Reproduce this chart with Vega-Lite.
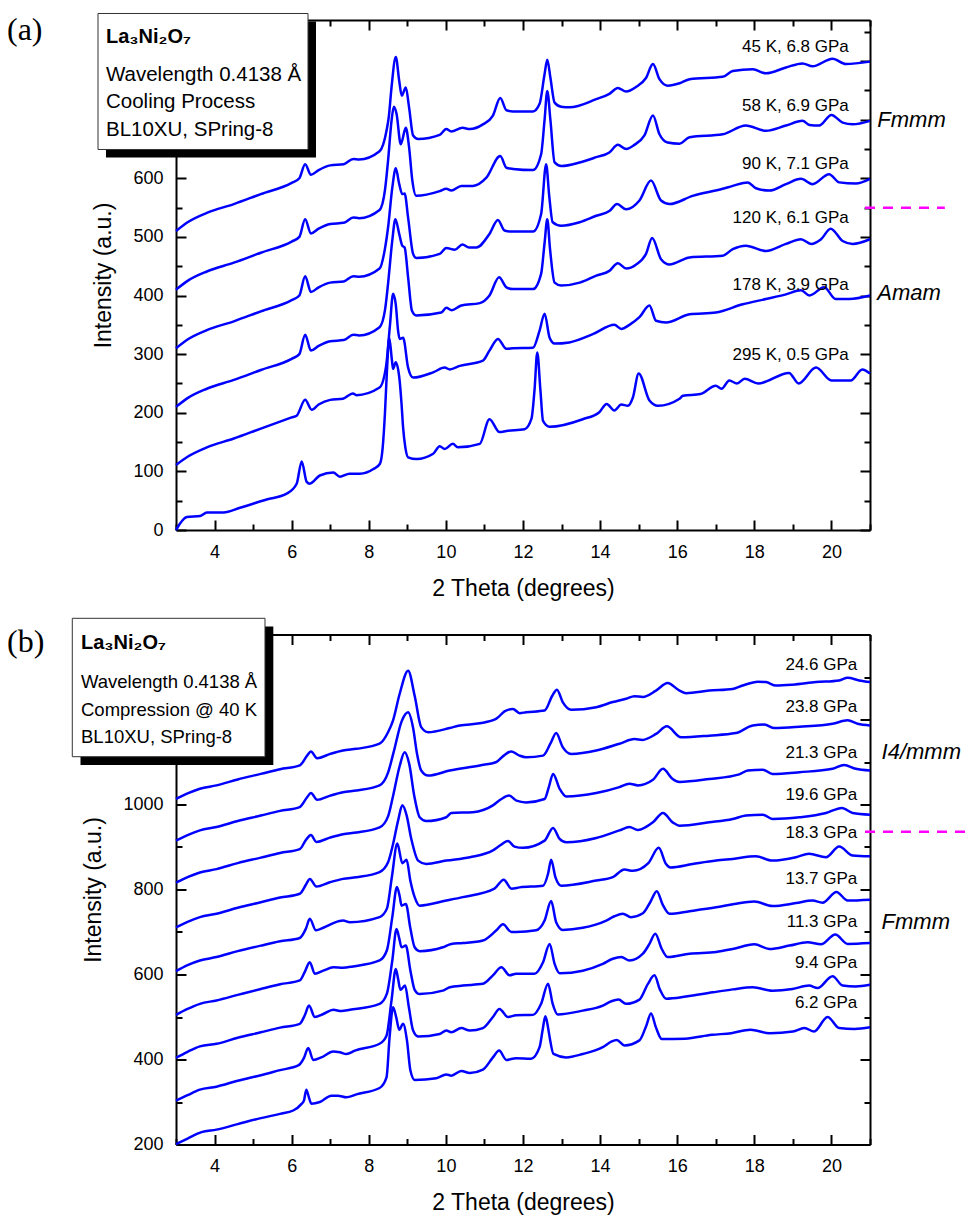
{
"$schema":"https://vega.github.io/schema/vega-lite/v6.json",
"background":"white",
"padding":{"left":7,"top":12,"right":0,"bottom":0},
"bounds":"flush",
"spacing":104.5,
"config":{"view":{"stroke":null},"axis":{"labelFont":"Liberation Sans","labelFontSize":18,"labelColor":"#000","titleFont":"Liberation Sans","titleFontSize":23,"titleFontWeight":"normal","titleColor":"#000","domainColor":"#000","domainWidth":2,"tickColor":"#000","tickWidth":2,"grid":false}},
"datasets":{
"a":[
{"c":"45K","x":3,"y":510},{"c":"45K","x":3.3,"y":525},{"c":"45K","x":3.8,"y":541},{"c":"45K","x":4.5,"y":556},{"c":"45K","x":5.2,"y":573},{"c":"45K","x":6.0,"y":592},{"c":"45K","x":6.2,"y":600},{"c":"45K","x":6.35,"y":624},{"c":"45K","x":6.5,"y":606},{"c":"45K","x":6.7,"y":614},{"c":"45K","x":7.0,"y":622},{"c":"45K","x":7.35,"y":624},{"c":"45K","x":7.6,"y":633},{"c":"45K","x":7.75,"y":632},{"c":"45K","x":8.28,"y":646},{"c":"45K","x":8.46,"y":681},{"c":"45K","x":8.52,"y":705},{"c":"45K","x":8.59,"y":755},{"c":"45K","x":8.7,"y":807},{"c":"45K","x":8.79,"y":766},{"c":"45K","x":8.855,"y":741},{"c":"45K","x":8.96,"y":755},{"c":"45K","x":9.045,"y":721},{"c":"45K","x":9.15,"y":673},{"c":"45K","x":9.28,"y":667},{"c":"45K","x":9.84,"y":674},{"c":"45K","x":10.01,"y":684},{"c":"45K","x":10.14,"y":680},{"c":"45K","x":10.43,"y":686},{"c":"45K","x":10.62,"y":684},{"c":"45K","x":10.96,"y":692},{"c":"45K","x":11.22,"y":707},{"c":"45K","x":11.41,"y":737},{"c":"45K","x":11.57,"y":716},{"c":"45K","x":11.74,"y":714},{"c":"45K","x":12.26,"y":714},{"c":"45K","x":12.43,"y":727},{"c":"45K","x":12.56,"y":778},{"c":"45K","x":12.63,"y":802},{"c":"45K","x":12.71,"y":772},{"c":"45K","x":12.82,"y":729},{"c":"45K","x":12.99,"y":722},{"c":"45K","x":13.21,"y":721},{"c":"45K","x":13.9,"y":735},{"c":"45K","x":14.24,"y":744},{"c":"45K","x":14.46,"y":754},{"c":"45K","x":14.675,"y":748},{"c":"45K","x":14.935,"y":756},{"c":"45K","x":15.19,"y":771},{"c":"45K","x":15.37,"y":795},{"c":"45K","x":15.54,"y":769},{"c":"45K","x":15.75,"y":758},{"c":"45K","x":16.06,"y":762},{"c":"45K","x":16.32,"y":769},{"c":"45K","x":17.18,"y":773},{"c":"45K","x":17.44,"y":783},{"c":"45K","x":17.96,"y":786},{"c":"45K","x":18.3,"y":779},{"c":"45K","x":18.82,"y":789},{"c":"45K","x":19.25,"y":796},{"c":"45K","x":19.51,"y":791},{"c":"45K","x":20.03,"y":804},{"c":"45K","x":20.37,"y":795},{"c":"45K","x":21,"y":799},
{"c":"58K","x":3,"y":410},{"c":"58K","x":3.3,"y":425},{"c":"58K","x":3.8,"y":441},{"c":"58K","x":4.5,"y":456},{"c":"58K","x":5.2,"y":473},{"c":"58K","x":6.0,"y":492},{"c":"58K","x":6.2,"y":500},{"c":"58K","x":6.35,"y":530},{"c":"58K","x":6.5,"y":506},{"c":"58K","x":6.7,"y":514},{"c":"58K","x":7.0,"y":522},{"c":"58K","x":7.35,"y":524},{"c":"58K","x":7.6,"y":533},{"c":"58K","x":7.75,"y":532},{"c":"58K","x":8.28,"y":546},{"c":"58K","x":8.42,"y":580},{"c":"58K","x":8.5,"y":630},{"c":"58K","x":8.59,"y":698},{"c":"58K","x":8.65,"y":722},{"c":"58K","x":8.72,"y":710},{"c":"58K","x":8.83,"y":658},{"c":"58K","x":8.96,"y":686},{"c":"58K","x":9.045,"y":653},{"c":"58K","x":9.13,"y":596},{"c":"58K","x":9.23,"y":570},{"c":"58K","x":9.84,"y":578},{"c":"58K","x":10.01,"y":582},{"c":"58K","x":10.14,"y":579},{"c":"58K","x":10.4,"y":587},{"c":"58K","x":10.7,"y":587},{"c":"58K","x":11.05,"y":601},{"c":"58K","x":11.41,"y":638},{"c":"58K","x":11.57,"y":618},{"c":"58K","x":11.74,"y":616},{"c":"58K","x":12.26,"y":614},{"c":"58K","x":12.47,"y":641},{"c":"58K","x":12.56,"y":700},{"c":"58K","x":12.63,"y":749},{"c":"58K","x":12.71,"y":700},{"c":"58K","x":12.82,"y":627},{"c":"58K","x":12.99,"y":621},{"c":"58K","x":13.47,"y":627},{"c":"58K","x":13.9,"y":636},{"c":"58K","x":14.24,"y":644},{"c":"58K","x":14.46,"y":657},{"c":"58K","x":14.675,"y":650},{"c":"58K","x":14.89,"y":657},{"c":"58K","x":15.15,"y":673},{"c":"58K","x":15.37,"y":707},{"c":"58K","x":15.54,"y":675},{"c":"58K","x":15.75,"y":661},{"c":"58K","x":16.06,"y":659},{"c":"58K","x":16.32,"y":670},{"c":"58K","x":17.18,"y":675},{"c":"58K","x":17.78,"y":690},{"c":"58K","x":18.3,"y":681},{"c":"58K","x":18.82,"y":690},{"c":"58K","x":19.25,"y":698},{"c":"58K","x":19.43,"y":691},{"c":"58K","x":19.68,"y":690},{"c":"58K","x":20.0,"y":708},{"c":"58K","x":20.29,"y":695},{"c":"58K","x":20.55,"y":692},{"c":"58K","x":21,"y":698},
{"c":"90K","x":3,"y":310},{"c":"90K","x":3.3,"y":325},{"c":"90K","x":3.8,"y":341},{"c":"90K","x":4.5,"y":356},{"c":"90K","x":5.2,"y":373},{"c":"90K","x":6.0,"y":392},{"c":"90K","x":6.2,"y":400},{"c":"90K","x":6.35,"y":433},{"c":"90K","x":6.5,"y":406},{"c":"90K","x":6.7,"y":414},{"c":"90K","x":7.0,"y":422},{"c":"90K","x":7.35,"y":424},{"c":"90K","x":7.6,"y":433},{"c":"90K","x":7.75,"y":432},{"c":"90K","x":8.28,"y":446},{"c":"90K","x":8.42,"y":480},{"c":"90K","x":8.5,"y":516},{"c":"90K","x":8.61,"y":584},{"c":"90K","x":8.7,"y":617},{"c":"90K","x":8.79,"y":590},{"c":"90K","x":8.87,"y":573},{"c":"90K","x":8.93,"y":574},{"c":"90K","x":9.02,"y":533},{"c":"90K","x":9.15,"y":471},{"c":"90K","x":9.23,"y":464},{"c":"90K","x":9.84,"y":471},{"c":"90K","x":10.01,"y":481},{"c":"90K","x":10.23,"y":478},{"c":"90K","x":10.43,"y":487},{"c":"90K","x":10.6,"y":482},{"c":"90K","x":10.79,"y":482},{"c":"90K","x":11.13,"y":505},{"c":"90K","x":11.35,"y":529},{"c":"90K","x":11.52,"y":511},{"c":"90K","x":11.7,"y":509},{"c":"90K","x":12.26,"y":509},{"c":"90K","x":12.47,"y":539},{"c":"90K","x":12.6,"y":624},{"c":"90K","x":12.68,"y":570},{"c":"90K","x":12.77,"y":525},{"c":"90K","x":12.99,"y":519},{"c":"90K","x":13.47,"y":525},{"c":"90K","x":13.9,"y":536},{"c":"90K","x":14.24,"y":544},{"c":"90K","x":14.44,"y":556},{"c":"90K","x":14.675,"y":547},{"c":"90K","x":15.02,"y":562},{"c":"90K","x":15.32,"y":596},{"c":"90K","x":15.58,"y":562},{"c":"90K","x":15.8,"y":556},{"c":"90K","x":16.4,"y":570},{"c":"90K","x":17.18,"y":582},{"c":"90K","x":17.44,"y":587},{"c":"90K","x":17.83,"y":593},{"c":"90K","x":18.04,"y":583},{"c":"90K","x":18.39,"y":579},{"c":"90K","x":18.82,"y":590},{"c":"90K","x":19.21,"y":599},{"c":"90K","x":19.51,"y":590},{"c":"90K","x":19.94,"y":607},{"c":"90K","x":20.2,"y":593},{"c":"90K","x":20.63,"y":591},{"c":"90K","x":21,"y":599},
{"c":"120K","x":3,"y":210},{"c":"120K","x":3.3,"y":225},{"c":"120K","x":3.8,"y":241},{"c":"120K","x":4.5,"y":256},{"c":"120K","x":5.2,"y":273},{"c":"120K","x":6.0,"y":292},{"c":"120K","x":6.2,"y":300},{"c":"120K","x":6.35,"y":333},{"c":"120K","x":6.5,"y":306},{"c":"120K","x":6.7,"y":314},{"c":"120K","x":7.0,"y":322},{"c":"120K","x":7.35,"y":324},{"c":"120K","x":7.6,"y":333},{"c":"120K","x":7.75,"y":332},{"c":"120K","x":8.28,"y":346},{"c":"120K","x":8.42,"y":375},{"c":"120K","x":8.5,"y":420},{"c":"120K","x":8.61,"y":494},{"c":"120K","x":8.69,"y":530},{"c":"120K","x":8.79,"y":505},{"c":"120K","x":8.87,"y":485},{"c":"120K","x":8.93,"y":482},{"c":"120K","x":9.02,"y":431},{"c":"120K","x":9.12,"y":374},{"c":"120K","x":9.23,"y":366},{"c":"120K","x":9.88,"y":371},{"c":"120K","x":10.01,"y":379},{"c":"120K","x":10.15,"y":375},{"c":"120K","x":10.4,"y":383},{"c":"120K","x":10.88,"y":387},{"c":"120K","x":11.13,"y":400},{"c":"120K","x":11.38,"y":431},{"c":"120K","x":11.57,"y":414},{"c":"120K","x":11.74,"y":411},{"c":"120K","x":12.26,"y":411},{"c":"120K","x":12.47,"y":437},{"c":"120K","x":12.56,"y":490},{"c":"120K","x":12.63,"y":530},{"c":"120K","x":12.7,"y":480},{"c":"120K","x":12.82,"y":422},{"c":"120K","x":12.99,"y":417},{"c":"120K","x":13.47,"y":422},{"c":"120K","x":13.9,"y":434},{"c":"120K","x":14.24,"y":442},{"c":"120K","x":14.46,"y":455},{"c":"120K","x":14.675,"y":446},{"c":"120K","x":14.935,"y":453},{"c":"120K","x":15.19,"y":471},{"c":"120K","x":15.35,"y":498},{"c":"120K","x":15.58,"y":462},{"c":"120K","x":15.8,"y":453},{"c":"120K","x":16.32,"y":465},{"c":"120K","x":17.18,"y":468},{"c":"120K","x":17.44,"y":479},{"c":"120K","x":17.78,"y":485},{"c":"120K","x":18.3,"y":476},{"c":"120K","x":18.82,"y":488},{"c":"120K","x":19.21,"y":496},{"c":"120K","x":19.47,"y":488},{"c":"120K","x":19.73,"y":496},{"c":"120K","x":19.98,"y":514},{"c":"120K","x":20.29,"y":493},{"c":"120K","x":20.55,"y":488},{"c":"120K","x":21,"y":496},
{"c":"178K","x":3,"y":111},{"c":"178K","x":3.3,"y":125},{"c":"178K","x":3.8,"y":141},{"c":"178K","x":4.5,"y":156},{"c":"178K","x":5.2,"y":173},{"c":"178K","x":6.0,"y":192},{"c":"178K","x":6.13,"y":195},{"c":"178K","x":6.35,"y":222},{"c":"178K","x":6.52,"y":205},{"c":"178K","x":6.7,"y":214},{"c":"178K","x":7.0,"y":222},{"c":"178K","x":7.33,"y":224},{"c":"178K","x":7.59,"y":233},{"c":"178K","x":7.68,"y":230},{"c":"178K","x":8.28,"y":243},{"c":"178K","x":8.45,"y":280},{"c":"178K","x":8.55,"y":350},{"c":"178K","x":8.63,"y":403},{"c":"178K","x":8.7,"y":385},{"c":"178K","x":8.76,"y":340},{"c":"178K","x":8.8,"y":326},{"c":"178K","x":8.89,"y":328},{"c":"178K","x":9.02,"y":277},{"c":"178K","x":9.15,"y":260},{"c":"178K","x":9.67,"y":269},{"c":"178K","x":9.97,"y":277},{"c":"178K","x":10.1,"y":274},{"c":"178K","x":10.36,"y":280},{"c":"178K","x":10.96,"y":289},{"c":"178K","x":11.13,"y":306},{"c":"178K","x":11.35,"y":326},{"c":"178K","x":11.57,"y":309},{"c":"178K","x":11.74,"y":310},{"c":"178K","x":12.26,"y":311},{"c":"178K","x":12.43,"y":340},{"c":"178K","x":12.56,"y":369},{"c":"178K","x":12.69,"y":328},{"c":"178K","x":12.82,"y":318},{"c":"178K","x":13.2,"y":320},{"c":"178K","x":13.81,"y":334},{"c":"178K","x":14.37,"y":350},{"c":"178K","x":14.55,"y":343},{"c":"178K","x":14.76,"y":350},{"c":"178K","x":15.02,"y":363},{"c":"178K","x":15.28,"y":383},{"c":"178K","x":15.45,"y":357},{"c":"178K","x":15.71,"y":354},{"c":"178K","x":16.32,"y":368},{"c":"178K","x":17.0,"y":371},{"c":"178K","x":17.7,"y":385},{"c":"178K","x":18.3,"y":394},{"c":"178K","x":18.82,"y":402},{"c":"178K","x":19.21,"y":409},{"c":"178K","x":19.43,"y":400},{"c":"178K","x":19.81,"y":414},{"c":"178K","x":20.11,"y":394},{"c":"178K","x":20.46,"y":394},{"c":"178K","x":21,"y":400},
{"c":"295K","x":3,"y":0},{"c":"295K","x":3.28,"y":22},{"c":"295K","x":3.63,"y":24},{"c":"295K","x":3.8,"y":30},{"c":"295K","x":4.23,"y":30},{"c":"295K","x":4.66,"y":38},{"c":"295K","x":5.35,"y":52},{"c":"295K","x":5.87,"y":62},{"c":"295K","x":6.13,"y":79},{"c":"295K","x":6.26,"y":117},{"c":"295K","x":6.39,"y":82},{"c":"295K","x":6.47,"y":79},{"c":"295K","x":6.73,"y":93},{"c":"295K","x":7.08,"y":98},{"c":"295K","x":7.25,"y":91},{"c":"295K","x":7.5,"y":96},{"c":"295K","x":7.77,"y":96},{"c":"295K","x":8.12,"y":104},{"c":"295K","x":8.29,"y":113},{"c":"295K","x":8.36,"y":140},{"c":"295K","x":8.42,"y":200},{"c":"295K","x":8.47,"y":270},{"c":"295K","x":8.53,"y":328},{"c":"295K","x":8.6,"y":290},{"c":"295K","x":8.63,"y":275},{"c":"295K","x":8.7,"y":286},{"c":"295K","x":8.8,"y":255},{"c":"295K","x":8.85,"y":215},{"c":"295K","x":8.89,"y":175},{"c":"295K","x":8.95,"y":140},{"c":"295K","x":9.02,"y":124},{"c":"295K","x":9.24,"y":121},{"c":"295K","x":9.67,"y":130},{"c":"295K","x":9.84,"y":143},{"c":"295K","x":9.97,"y":138},{"c":"295K","x":10.18,"y":147},{"c":"295K","x":10.31,"y":141},{"c":"295K","x":10.88,"y":147},{"c":"295K","x":11.13,"y":189},{"c":"295K","x":11.39,"y":167},{"c":"295K","x":11.57,"y":169},{"c":"295K","x":12.04,"y":172},{"c":"295K","x":12.22,"y":190},{"c":"295K","x":12.3,"y":240},{"c":"295K","x":12.37,"y":303},{"c":"295K","x":12.45,"y":240},{"c":"295K","x":12.52,"y":186},{"c":"295K","x":12.69,"y":176},{"c":"295K","x":13.55,"y":189},{"c":"295K","x":13.98,"y":201},{"c":"295K","x":14.17,"y":215},{"c":"295K","x":14.37,"y":204},{"c":"295K","x":14.55,"y":214},{"c":"295K","x":14.72,"y":212},{"c":"295K","x":14.85,"y":226},{"c":"295K","x":15.0,"y":267},{"c":"295K","x":15.28,"y":221},{"c":"295K","x":15.5,"y":212},{"c":"295K","x":16.06,"y":224},{"c":"295K","x":16.15,"y":229},{"c":"295K","x":16.6,"y":232},{"c":"295K","x":17.0,"y":246},{"c":"295K","x":17.15,"y":241},{"c":"295K","x":17.35,"y":255},{"c":"295K","x":17.55,"y":250},{"c":"295K","x":17.75,"y":258},{"c":"295K","x":18.1,"y":250},{"c":"295K","x":18.9,"y":268},{"c":"295K","x":19.15,"y":250},{"c":"295K","x":19.6,"y":277},{"c":"295K","x":20.0,"y":255},{"c":"295K","x":20.5,"y":255},{"c":"295K","x":20.8,"y":274},{"c":"295K","x":21,"y":267}
],
"b":[
{"c":"6.2","x":3,"y":201},{"c":"6.2","x":3.3,"y":214},{"c":"6.2","x":3.66,"y":229},{"c":"6.2","x":4.05,"y":235},{"c":"6.2","x":4.6,"y":248},{"c":"6.2","x":5.2,"y":262},{"c":"6.2","x":5.7,"y":272},{"c":"6.2","x":6.04,"y":280},{"c":"6.2","x":6.25,"y":295},{"c":"6.2","x":6.32,"y":304},{"c":"6.2","x":6.38,"y":329},{"c":"6.2","x":6.45,"y":310},{"c":"6.2","x":6.51,"y":296},{"c":"6.2","x":6.73,"y":300},{"c":"6.2","x":7.03,"y":315},{"c":"6.2","x":7.2,"y":315},{"c":"6.2","x":7.42,"y":311},{"c":"6.2","x":7.68,"y":318},{"c":"6.2","x":8.28,"y":333},{"c":"6.2","x":8.46,"y":358},{"c":"6.2","x":8.54,"y":453},{"c":"6.2","x":8.63,"y":523},{"c":"6.2","x":8.71,"y":500},{"c":"6.2","x":8.79,"y":470},{"c":"6.2","x":8.89,"y":484},{"c":"6.2","x":8.99,"y":445},{"c":"6.2","x":9.08,"y":374},{"c":"6.2","x":9.19,"y":352},{"c":"6.2","x":9.75,"y":356},{"c":"6.2","x":10.01,"y":365},{"c":"6.2","x":10.14,"y":362},{"c":"6.2","x":10.4,"y":373},{"c":"6.2","x":10.62,"y":368},{"c":"6.2","x":10.96,"y":376},{"c":"6.2","x":11.22,"y":405},{"c":"6.2","x":11.38,"y":421},{"c":"6.2","x":11.57,"y":399},{"c":"6.2","x":11.82,"y":403},{"c":"6.2","x":12.21,"y":402},{"c":"6.2","x":12.43,"y":429},{"c":"6.2","x":12.51,"y":470},{"c":"6.2","x":12.58,"y":502},{"c":"6.2","x":12.64,"y":480},{"c":"6.2","x":12.69,"y":453},{"c":"6.2","x":12.79,"y":413},{"c":"6.2","x":13.12,"y":405},{"c":"6.2","x":13.55,"y":413},{"c":"6.2","x":14.07,"y":429},{"c":"6.2","x":14.29,"y":442},{"c":"6.2","x":14.43,"y":446},{"c":"6.2","x":14.63,"y":433},{"c":"6.2","x":15.02,"y":445},{"c":"6.2","x":15.2,"y":480},{"c":"6.2","x":15.32,"y":508},{"c":"6.2","x":15.45,"y":475},{"c":"6.2","x":15.6,"y":448},{"c":"6.2","x":16.2,"y":449},{"c":"6.2","x":16.9,"y":458},{"c":"6.2","x":17.4,"y":462},{"c":"6.2","x":17.9,"y":470},{"c":"6.2","x":18.4,"y":462},{"c":"6.2","x":19.0,"y":466},{"c":"6.2","x":19.3,"y":474},{"c":"6.2","x":19.55,"y":466},{"c":"6.2","x":19.9,"y":500},{"c":"6.2","x":20.2,"y":474},{"c":"6.2","x":20.6,"y":472},{"c":"6.2","x":21,"y":476},
{"c":"9.4","x":3,"y":303},{"c":"9.4","x":3.3,"y":316},{"c":"9.4","x":3.62,"y":329},{"c":"9.4","x":4.05,"y":336},{"c":"9.4","x":4.6,"y":350},{"c":"9.4","x":5.2,"y":363},{"c":"9.4","x":5.7,"y":375},{"c":"9.4","x":6.17,"y":386},{"c":"9.4","x":6.32,"y":404},{"c":"9.4","x":6.43,"y":427},{"c":"9.4","x":6.56,"y":399},{"c":"9.4","x":6.77,"y":405},{"c":"9.4","x":7.08,"y":419},{"c":"9.4","x":7.25,"y":417},{"c":"9.4","x":7.42,"y":413},{"c":"9.4","x":7.64,"y":421},{"c":"9.4","x":8.28,"y":437},{"c":"9.4","x":8.46,"y":456},{"c":"9.4","x":8.59,"y":539},{"c":"9.4","x":8.7,"y":613},{"c":"9.4","x":8.76,"y":590},{"c":"9.4","x":8.82,"y":564},{"c":"9.4","x":8.94,"y":574},{"c":"9.4","x":9.04,"y":523},{"c":"9.4","x":9.15,"y":468},{"c":"9.4","x":9.28,"y":454},{"c":"9.4","x":9.84,"y":460},{"c":"9.4","x":10.01,"y":468},{"c":"9.4","x":10.14,"y":464},{"c":"9.4","x":10.4,"y":474},{"c":"9.4","x":10.62,"y":468},{"c":"9.4","x":10.96,"y":474},{"c":"9.4","x":11.22,"y":500},{"c":"9.4","x":11.39,"y":519},{"c":"9.4","x":11.61,"y":500},{"c":"9.4","x":11.82,"y":504},{"c":"9.4","x":12.26,"y":505},{"c":"9.4","x":12.47,"y":531},{"c":"9.4","x":12.65,"y":578},{"c":"9.4","x":12.77,"y":531},{"c":"9.4","x":12.9,"y":506},{"c":"9.4","x":13.55,"y":515},{"c":"9.4","x":14.07,"y":527},{"c":"9.4","x":14.29,"y":537},{"c":"9.4","x":14.48,"y":541},{"c":"9.4","x":14.67,"y":531},{"c":"9.4","x":15.02,"y":541},{"c":"9.4","x":15.24,"y":578},{"c":"9.4","x":15.41,"y":598},{"c":"9.4","x":15.55,"y":565},{"c":"9.4","x":15.71,"y":543},{"c":"9.4","x":16.23,"y":548},{"c":"9.4","x":16.92,"y":558},{"c":"9.4","x":17.44,"y":565},{"c":"9.4","x":17.96,"y":570},{"c":"9.4","x":18.47,"y":562},{"c":"9.4","x":18.99,"y":566},{"c":"9.4","x":19.42,"y":574},{"c":"9.4","x":19.64,"y":568},{"c":"9.4","x":20.03,"y":596},{"c":"9.4","x":20.29,"y":574},{"c":"9.4","x":20.63,"y":572},{"c":"9.4","x":21,"y":576},
{"c":"11.3","x":3,"y":404},{"c":"11.3","x":3.3,"y":418},{"c":"11.3","x":3.62,"y":431},{"c":"11.3","x":4.05,"y":437},{"c":"11.3","x":4.6,"y":451},{"c":"11.3","x":5.2,"y":464},{"c":"11.3","x":5.7,"y":475},{"c":"11.3","x":6.21,"y":484},{"c":"11.3","x":6.34,"y":504},{"c":"11.3","x":6.45,"y":527},{"c":"11.3","x":6.6,"y":500},{"c":"11.3","x":6.82,"y":507},{"c":"11.3","x":7.08,"y":517},{"c":"11.3","x":7.29,"y":514},{"c":"11.3","x":7.51,"y":517},{"c":"11.3","x":8.28,"y":531},{"c":"11.3","x":8.47,"y":555},{"c":"11.3","x":8.61,"y":633},{"c":"11.3","x":8.72,"y":707},{"c":"11.3","x":8.79,"y":685},{"c":"11.3","x":8.85,"y":664},{"c":"11.3","x":8.96,"y":668},{"c":"11.3","x":9.08,"y":609},{"c":"11.3","x":9.19,"y":564},{"c":"11.3","x":9.32,"y":554},{"c":"11.3","x":9.92,"y":562},{"c":"11.3","x":10.1,"y":570},{"c":"11.3","x":10.44,"y":574},{"c":"11.3","x":10.96,"y":578},{"c":"11.3","x":11.22,"y":598},{"c":"11.3","x":11.44,"y":617},{"c":"11.3","x":11.65,"y":598},{"c":"11.3","x":11.82,"y":602},{"c":"11.3","x":12.3,"y":602},{"c":"11.3","x":12.52,"y":629},{"c":"11.3","x":12.69,"y":672},{"c":"11.3","x":12.82,"y":625},{"c":"11.3","x":12.95,"y":603},{"c":"11.3","x":13.55,"y":609},{"c":"11.3","x":14.07,"y":625},{"c":"11.3","x":14.33,"y":637},{"c":"11.3","x":14.55,"y":641},{"c":"11.3","x":14.76,"y":633},{"c":"11.3","x":15.11,"y":649},{"c":"11.3","x":15.28,"y":672},{"c":"11.3","x":15.43,"y":696},{"c":"11.3","x":15.6,"y":660},{"c":"11.3","x":15.75,"y":641},{"c":"11.3","x":16.32,"y":649},{"c":"11.3","x":17.01,"y":653},{"c":"11.3","x":17.44,"y":660},{"c":"11.3","x":18.0,"y":671},{"c":"11.3","x":18.39,"y":660},{"c":"11.3","x":18.91,"y":668},{"c":"11.3","x":19.38,"y":676},{"c":"11.3","x":19.73,"y":671},{"c":"11.3","x":20.1,"y":694},{"c":"11.3","x":20.42,"y":672},{"c":"11.3","x":21,"y":674},
{"c":"13.7","x":3,"y":505},{"c":"13.7","x":3.3,"y":519},{"c":"13.7","x":3.62,"y":531},{"c":"13.7","x":4.05,"y":539},{"c":"13.7","x":4.6,"y":552},{"c":"13.7","x":5.2,"y":566},{"c":"13.7","x":5.7,"y":577},{"c":"13.7","x":6.21,"y":586},{"c":"13.7","x":6.34,"y":606},{"c":"13.7","x":6.47,"y":629},{"c":"13.7","x":6.6,"y":602},{"c":"13.7","x":6.82,"y":609},{"c":"13.7","x":7.08,"y":617},{"c":"13.7","x":7.33,"y":616},{"c":"13.7","x":7.59,"y":619},{"c":"13.7","x":8.28,"y":633},{"c":"13.7","x":8.47,"y":657},{"c":"13.7","x":8.61,"y":735},{"c":"13.7","x":8.73,"y":806},{"c":"13.7","x":8.8,"y":785},{"c":"13.7","x":8.85,"y":762},{"c":"13.7","x":8.96,"y":766},{"c":"13.7","x":9.08,"y":708},{"c":"13.7","x":9.19,"y":664},{"c":"13.7","x":9.32,"y":655},{"c":"13.7","x":9.92,"y":664},{"c":"13.7","x":10.14,"y":672},{"c":"13.7","x":10.44,"y":674},{"c":"13.7","x":10.96,"y":680},{"c":"13.7","x":11.31,"y":704},{"c":"13.7","x":11.48,"y":718},{"c":"13.7","x":11.7,"y":700},{"c":"13.7","x":11.82,"y":700},{"c":"13.7","x":12.34,"y":704},{"c":"13.7","x":12.56,"y":727},{"c":"13.7","x":12.73,"y":773},{"c":"13.7","x":12.86,"y":723},{"c":"13.7","x":13.03,"y":705},{"c":"13.7","x":13.55,"y":710},{"c":"13.7","x":14.16,"y":727},{"c":"13.7","x":14.37,"y":737},{"c":"13.7","x":14.59,"y":743},{"c":"13.7","x":14.8,"y":735},{"c":"13.7","x":15.11,"y":744},{"c":"13.7","x":15.3,"y":770},{"c":"13.7","x":15.47,"y":796},{"c":"13.7","x":15.62,"y":765},{"c":"13.7","x":15.8,"y":743},{"c":"13.7","x":16.32,"y":749},{"c":"13.7","x":17.01,"y":758},{"c":"13.7","x":17.48,"y":766},{"c":"13.7","x":18.0,"y":772},{"c":"13.7","x":18.47,"y":761},{"c":"13.7","x":19.08,"y":768},{"c":"13.7","x":19.51,"y":774},{"c":"13.7","x":19.77,"y":769},{"c":"13.7","x":20.13,"y":794},{"c":"13.7","x":20.42,"y":774},{"c":"13.7","x":21,"y":776},
{"c":"18.3","x":3,"y":608},{"c":"18.3","x":3.3,"y":622},{"c":"18.3","x":3.62,"y":633},{"c":"18.3","x":4.05,"y":641},{"c":"18.3","x":4.6,"y":655},{"c":"18.3","x":5.2,"y":668},{"c":"18.3","x":5.7,"y":678},{"c":"18.3","x":6.21,"y":686},{"c":"18.3","x":6.37,"y":708},{"c":"18.3","x":6.47,"y":731},{"c":"18.3","x":6.63,"y":704},{"c":"18.3","x":6.82,"y":710},{"c":"18.3","x":7.08,"y":721},{"c":"18.3","x":7.33,"y":727},{"c":"18.3","x":7.51,"y":723},{"c":"18.3","x":8.28,"y":735},{"c":"18.3","x":8.47,"y":755},{"c":"18.3","x":8.6,"y":830},{"c":"18.3","x":8.74,"y":908},{"c":"18.3","x":8.87,"y":862},{"c":"18.3","x":8.98,"y":870},{"c":"18.3","x":9.08,"y":820},{"c":"18.3","x":9.19,"y":782},{"c":"18.3","x":9.32,"y":762},{"c":"18.3","x":10.01,"y":774},{"c":"18.3","x":10.44,"y":782},{"c":"18.3","x":11.26,"y":802},{"c":"18.3","x":11.5,"y":823},{"c":"18.3","x":11.7,"y":802},{"c":"18.3","x":11.91,"y":805},{"c":"18.3","x":12.52,"y":809},{"c":"18.3","x":12.65,"y":837},{"c":"18.3","x":12.73,"y":870},{"c":"18.3","x":12.84,"y":829},{"c":"18.3","x":12.99,"y":809},{"c":"18.3","x":13.9,"y":821},{"c":"18.3","x":14.33,"y":829},{"c":"18.3","x":14.63,"y":847},{"c":"18.3","x":14.85,"y":844},{"c":"18.3","x":15.25,"y":862},{"c":"18.3","x":15.52,"y":898},{"c":"18.3","x":15.71,"y":860},{"c":"18.3","x":15.82,"y":852},{"c":"18.3","x":16.4,"y":860},{"c":"18.3","x":17.01,"y":868},{"c":"18.3","x":17.44,"y":872},{"c":"18.3","x":18.04,"y":878},{"c":"18.3","x":18.47,"y":868},{"c":"18.3","x":19.08,"y":876},{"c":"18.3","x":19.42,"y":884},{"c":"18.3","x":19.86,"y":876},{"c":"18.3","x":20.2,"y":901},{"c":"18.3","x":20.55,"y":880},{"c":"18.3","x":21,"y":878},
{"c":"19.6","x":3,"y":711},{"c":"19.6","x":3.3,"y":724},{"c":"19.6","x":3.62,"y":735},{"c":"19.6","x":4.05,"y":743},{"c":"19.6","x":4.6,"y":757},{"c":"19.6","x":5.2,"y":770},{"c":"19.6","x":5.7,"y":781},{"c":"19.6","x":6.21,"y":790},{"c":"19.6","x":6.38,"y":813},{"c":"19.6","x":6.47,"y":825},{"c":"19.6","x":6.64,"y":807},{"c":"19.6","x":6.99,"y":817},{"c":"19.6","x":7.33,"y":825},{"c":"19.6","x":7.68,"y":829},{"c":"19.6","x":8.28,"y":841},{"c":"19.6","x":8.5,"y":864},{"c":"19.6","x":8.63,"y":907},{"c":"19.6","x":8.76,"y":962},{"c":"19.6","x":8.87,"y":998},{"c":"19.6","x":8.98,"y":975},{"c":"19.6","x":9.1,"y":920},{"c":"19.6","x":9.28,"y":868},{"c":"19.6","x":9.49,"y":860},{"c":"19.6","x":10.01,"y":868},{"c":"19.6","x":10.62,"y":876},{"c":"19.6","x":11.22,"y":892},{"c":"19.6","x":11.41,"y":904},{"c":"19.6","x":11.61,"y":914},{"c":"19.6","x":11.78,"y":901},{"c":"19.6","x":12.0,"y":898},{"c":"19.6","x":12.56,"y":915},{"c":"19.6","x":12.78,"y":945},{"c":"19.6","x":12.95,"y":919},{"c":"19.6","x":13.12,"y":911},{"c":"19.6","x":13.9,"y":921},{"c":"19.6","x":14.5,"y":939},{"c":"19.6","x":14.76,"y":947},{"c":"19.6","x":14.98,"y":940},{"c":"19.6","x":15.37,"y":958},{"c":"19.6","x":15.63,"y":980},{"c":"19.6","x":15.88,"y":958},{"c":"19.6","x":16.06,"y":950},{"c":"19.6","x":16.83,"y":958},{"c":"19.6","x":17.44,"y":966},{"c":"19.6","x":17.78,"y":974},{"c":"19.6","x":18.22,"y":976},{"c":"19.6","x":18.47,"y":966},{"c":"19.6","x":19.17,"y":970},{"c":"19.6","x":19.86,"y":980},{"c":"19.6","x":20.27,"y":992},{"c":"19.6","x":20.55,"y":980},{"c":"19.6","x":21,"y":976},
{"c":"21.3","x":3,"y":816},{"c":"21.3","x":3.3,"y":829},{"c":"21.3","x":3.62,"y":840},{"c":"21.3","x":4.05,"y":848},{"c":"21.3","x":4.6,"y":862},{"c":"21.3","x":5.2,"y":875},{"c":"21.3","x":5.7,"y":886},{"c":"21.3","x":6.21,"y":895},{"c":"21.3","x":6.38,"y":918},{"c":"21.3","x":6.5,"y":928},{"c":"21.3","x":6.64,"y":912},{"c":"21.3","x":6.99,"y":922},{"c":"21.3","x":7.33,"y":930},{"c":"21.3","x":7.68,"y":934},{"c":"21.3","x":8.28,"y":946},{"c":"21.3","x":8.5,"y":972},{"c":"21.3","x":8.63,"y":1020},{"c":"21.3","x":8.8,"y":1090},{"c":"21.3","x":8.93,"y":1123},{"c":"21.3","x":9.05,"y":1095},{"c":"21.3","x":9.18,"y":1020},{"c":"21.3","x":9.32,"y":970},{"c":"21.3","x":9.49,"y":961},{"c":"21.3","x":10.01,"y":970},{"c":"21.3","x":10.14,"y":980},{"c":"21.3","x":10.7,"y":982},{"c":"21.3","x":11.22,"y":998},{"c":"21.3","x":11.44,"y":1013},{"c":"21.3","x":11.64,"y":1021},{"c":"21.3","x":11.83,"y":1009},{"c":"21.3","x":12.08,"y":1005},{"c":"21.3","x":12.56,"y":1013},{"c":"21.3","x":12.67,"y":1041},{"c":"21.3","x":12.78,"y":1072},{"c":"21.3","x":12.95,"y":1037},{"c":"21.3","x":13.12,"y":1019},{"c":"21.3","x":13.9,"y":1027},{"c":"21.3","x":14.5,"y":1041},{"c":"21.3","x":14.76,"y":1049},{"c":"21.3","x":14.98,"y":1045},{"c":"21.3","x":15.37,"y":1058},{"c":"21.3","x":15.63,"y":1084},{"c":"21.3","x":15.88,"y":1060},{"c":"21.3","x":16.06,"y":1053},{"c":"21.3","x":16.83,"y":1060},{"c":"21.3","x":17.61,"y":1071},{"c":"21.3","x":17.83,"y":1080},{"c":"21.3","x":18.22,"y":1082},{"c":"21.3","x":18.47,"y":1072},{"c":"21.3","x":19.17,"y":1076},{"c":"21.3","x":20.03,"y":1084},{"c":"21.3","x":20.33,"y":1093},{"c":"21.3","x":20.63,"y":1084},{"c":"21.3","x":21,"y":1080},
{"c":"23.8","x":3,"y":915},{"c":"23.8","x":3.3,"y":928},{"c":"23.8","x":3.62,"y":939},{"c":"23.8","x":4.05,"y":947},{"c":"23.8","x":4.6,"y":961},{"c":"23.8","x":5.2,"y":974},{"c":"23.8","x":5.7,"y":985},{"c":"23.8","x":6.21,"y":994},{"c":"23.8","x":6.4,"y":1017},{"c":"23.8","x":6.5,"y":1027},{"c":"23.8","x":6.66,"y":1011},{"c":"23.8","x":7.0,"y":1021},{"c":"23.8","x":7.33,"y":1029},{"c":"23.8","x":7.68,"y":1033},{"c":"23.8","x":8.28,"y":1045},{"c":"23.8","x":8.5,"y":1075},{"c":"23.8","x":8.65,"y":1125},{"c":"23.8","x":8.85,"y":1195},{"c":"23.8","x":9.02,"y":1217},{"c":"23.8","x":9.15,"y":1180},{"c":"23.8","x":9.25,"y":1120},{"c":"23.8","x":9.36,"y":1080},{"c":"23.8","x":9.54,"y":1068},{"c":"23.8","x":10.1,"y":1080},{"c":"23.8","x":10.88,"y":1092},{"c":"23.8","x":11.31,"y":1100},{"c":"23.8","x":11.5,"y":1115},{"c":"23.8","x":11.7,"y":1125},{"c":"23.8","x":11.91,"y":1115},{"c":"23.8","x":12.08,"y":1111},{"c":"23.8","x":12.52,"y":1115},{"c":"23.8","x":12.73,"y":1147},{"c":"23.8","x":12.86,"y":1168},{"c":"23.8","x":13.03,"y":1135},{"c":"23.8","x":13.25,"y":1119},{"c":"23.8","x":13.9,"y":1127},{"c":"23.8","x":14.5,"y":1143},{"c":"23.8","x":14.89,"y":1154},{"c":"23.8","x":15.1,"y":1152},{"c":"23.8","x":15.45,"y":1166},{"c":"23.8","x":15.73,"y":1184},{"c":"23.8","x":16.1,"y":1158},{"c":"23.8","x":16.83,"y":1162},{"c":"23.8","x":17.52,"y":1168},{"c":"23.8","x":17.96,"y":1186},{"c":"23.8","x":18.26,"y":1188},{"c":"23.8","x":18.52,"y":1180},{"c":"23.8","x":19.17,"y":1183},{"c":"23.8","x":20.03,"y":1190},{"c":"23.8","x":20.42,"y":1198},{"c":"23.8","x":20.68,"y":1190},{"c":"23.8","x":21,"y":1186},
{"c":"24.6","x":3,"y":1013},{"c":"24.6","x":3.3,"y":1026},{"c":"24.6","x":3.62,"y":1037},{"c":"24.6","x":4.05,"y":1045},{"c":"24.6","x":4.6,"y":1059},{"c":"24.6","x":5.2,"y":1072},{"c":"24.6","x":5.7,"y":1083},{"c":"24.6","x":6.21,"y":1092},{"c":"24.6","x":6.4,"y":1115},{"c":"24.6","x":6.5,"y":1125},{"c":"24.6","x":6.66,"y":1109},{"c":"24.6","x":7.0,"y":1119},{"c":"24.6","x":7.33,"y":1127},{"c":"24.6","x":7.68,"y":1131},{"c":"24.6","x":8.28,"y":1143},{"c":"24.6","x":8.5,"y":1170},{"c":"24.6","x":8.63,"y":1198},{"c":"24.6","x":8.8,"y":1260},{"c":"24.6","x":9.02,"y":1315},{"c":"24.6","x":9.19,"y":1256},{"c":"24.6","x":9.36,"y":1182},{"c":"24.6","x":9.54,"y":1170},{"c":"24.6","x":10.1,"y":1180},{"c":"24.6","x":10.36,"y":1186},{"c":"24.6","x":10.88,"y":1191},{"c":"24.6","x":11.31,"y":1202},{"c":"24.6","x":11.52,"y":1219},{"c":"24.6","x":11.74,"y":1225},{"c":"24.6","x":11.91,"y":1215},{"c":"24.6","x":12.08,"y":1217},{"c":"24.6","x":12.56,"y":1221},{"c":"24.6","x":12.76,"y":1256},{"c":"24.6","x":12.88,"y":1270},{"c":"24.6","x":13.03,"y":1241},{"c":"24.6","x":13.25,"y":1223},{"c":"24.6","x":13.9,"y":1229},{"c":"24.6","x":14.33,"y":1241},{"c":"24.6","x":14.675,"y":1249},{"c":"24.6","x":14.89,"y":1255},{"c":"24.6","x":15.11,"y":1253},{"c":"24.6","x":15.45,"y":1268},{"c":"24.6","x":15.75,"y":1286},{"c":"24.6","x":16.06,"y":1268},{"c":"24.6","x":16.23,"y":1262},{"c":"24.6","x":16.83,"y":1268},{"c":"24.6","x":17.44,"y":1272},{"c":"24.6","x":17.7,"y":1280},{"c":"24.6","x":18.09,"y":1289},{"c":"24.6","x":18.3,"y":1288},{"c":"24.6","x":18.56,"y":1280},{"c":"24.6","x":18.99,"y":1282},{"c":"24.6","x":19.6,"y":1288},{"c":"24.6","x":20.2,"y":1292},{"c":"24.6","x":20.42,"y":1298},{"c":"24.6","x":20.72,"y":1292},{"c":"24.6","x":21,"y":1288}
],
"la":[{"t":"45 K, 6.8 GPa","y":823.6},{"t":"58 K, 6.9 GPa","y":724.1},{"t":"90 K, 7.1 GPa","y":624.7},{"t":"120 K, 6.1 GPa","y":532.6},{"t":"178 K, 3.9 GPa","y":417.1},{"t":"295 K, 0.5 GPa","y":297.7}],
"lb":[{"t":"24.6 GPa","y":1328.2},{"t":"23.8 GPa","y":1228.7},{"t":"21.3 GPa","y":1121.9},{"t":"19.6 GPa","y":1022.4},{"t":"18.3 GPa","y":932.2},{"t":"13.7 GPa","y":824},{"t":"11.3 GPa","y":724.2},{"t":"9.4 GPa","y":627.8},{"t":"6.2 GPa","y":532.2}],
"pa":[{"t":"Fmmm","y":698.6},{"t":"Amam","y":405.1}],
"pb":[{"t":"I4/mmm","y":1124.2},{"t":"Fmmm","y":724.2}],
"ba":[{"t":"Wavelength 0.4138 Å","y":777.0},{"t":"Cooling Process","y":729.8},{"t":"BL10XU, SPring-8","y":683.2}],
"bb":[{"t":"Wavelength 0.4138 Å","y":1288.9},{"t":"Compression @ 40 K","y":1222.4},{"t":"BL10XU, SPring-8","y":1159.5}]
},
"vconcat":[
{
"width":694,"height":510,
"resolve":{"axis":{"x":"independent","y":"independent"}},
"layer":[
{"data":{"name":"a"},"mark":{"type":"line","color":"#0000ff","strokeWidth":2.5,"strokeJoin":"round","interpolate":"monotone"},
"encoding":{
"x":{"field":"x","type":"quantitative","scale":{"domain":[3,21],"nice":false,"zero":false},"axis":{"orient":"bottom","values":[4,6,8,10,12,14,16,18,20],"tickSize":-10,"labelPadding":23,"labelFlush":false,"labelOverlap":false,"title":"2 Theta (degrees)","titlePadding":16}},
"y":{"field":"y","type":"quantitative","scale":{"domain":[0,870],"nice":false,"zero":false},"axis":{"orient":"left","values":[0,100,200,300,400,500,600,700,800],"format":"d","labelExpr":"datum.value <= 600 ? datum.label : ''","tickSize":-10,"labelPadding":23,"labelFlush":false,"labelOverlap":false,"title":"Intensity (a.u.)","titlePadding":17}},
"detail":{"field":"c"}}},
{"data":{"name":"la"},"mark":{"type":"text","align":"right","baseline":"middle","fontSize":17,"font":"Liberation Sans","color":"#000"},
"encoding":{
"x":{"datum":20.45,"type":"quantitative","scale":{"domain":[3,21],"nice":false,"zero":false},"axis":{"orient":"top","values":[4,6,8,10,12,14,16,18,20],"labels":false,"title":null,"tickSize":-10}},
"y":{"field":"y","type":"quantitative","scale":{"domain":[0,870],"nice":false,"zero":false},"axis":{"orient":"right","values":[0,100,200,300,400,500,600,700,800],"labels":false,"title":null,"tickSize":-10}},
"text":{"field":"t"}}},
{"data":{"values":[{}]},"mark":{"type":"rect","color":"#000"},
"encoding":{"x":{"datum":1.184,"type":"quantitative","scale":{"domain":[3,21],"nice":false,"zero":false},"axis":{"orient":"bottom","values":[3,5,7,9,11,13,15,17,19,21],"labels":false,"title":null,"domain":false,"tickSize":-6}},"x2":{"datum":6.631},"y":{"datum":867.4,"type":"quantitative","scale":{"domain":[0,870],"nice":false,"zero":false},"axis":{"orient":"left","values":[50,150,250,350,450,550,650,750,850],"labels":false,"title":null,"domain":false,"tickSize":-6}},"y2":{"datum":635.4}}},
{"data":{"values":[{}]},"mark":{"type":"rect","fill":"#fff","stroke":"#333","strokeWidth":1},
"encoding":{"x":{"datum":0.977,"type":"quantitative","scale":{"domain":[3,21],"nice":false,"zero":false},"axis":{"orient":"top","values":[3,5,7,9,11,13,15,17,19,21],"labels":false,"title":null,"domain":false,"tickSize":-6}},"x2":{"datum":6.424},"y":{"datum":881.1,"type":"quantitative","scale":{"domain":[0,870],"nice":false,"zero":false},"axis":{"orient":"right","values":[50,150,250,350,450,550,650,750,850],"labels":false,"title":null,"domain":false,"tickSize":-6}},"y2":{"datum":649.1}}},
{"data":{"values":[{}]},"mark":{"type":"text","align":"left","baseline":"middle","fontSize":20,"fontWeight":"bold","font":"Liberation Sans","color":"#000","text":"La₃Ni₂O₇"},
"encoding":{"x":{"datum":1.184,"type":"quantitative","scale":{"domain":[3,21],"nice":false,"zero":false},"axis":null},"y":{"datum":841.8,"type":"quantitative","scale":{"domain":[0,870],"nice":false,"zero":false},"axis":null}}},
{"data":{"name":"ba"},"mark":{"type":"text","align":"left","baseline":"middle","fontSize":20.5,"font":"Liberation Sans","color":"#000"},
"encoding":{"x":{"datum":1.184,"type":"quantitative","scale":{"domain":[3,21],"nice":false,"zero":false},"axis":null},"y":{"field":"y","type":"quantitative","scale":{"domain":[0,870],"nice":false,"zero":false},"axis":null},"text":{"field":"t"}}},
{"data":{"values":[{}]},"mark":{"type":"text","align":"left","baseline":"middle","fontSize":32,"font":"Liberation Serif","color":"#000","text":"(a)"},
"encoding":{"x":{"datum":-1.383,"type":"quantitative","scale":{"domain":[3,21],"nice":false,"zero":false},"axis":null},"y":{"datum":853.5,"type":"quantitative","scale":{"domain":[0,870],"nice":false,"zero":false},"axis":null}}},
{"data":{"name":"pa"},"mark":{"type":"text","align":"left","baseline":"middle","fontSize":22,"fontStyle":"italic","font":"Liberation Sans","color":"#000"},
"encoding":{"x":{"datum":21.19,"type":"quantitative","scale":{"domain":[3,21],"nice":false,"zero":false},"axis":null},"y":{"field":"y","type":"quantitative","scale":{"domain":[0,870],"nice":false,"zero":false},"axis":null},"text":{"field":"t"}}},
{"data":{"values":[{}]},"mark":{"type":"rule","color":"#ff00ff","strokeWidth":2.5,"strokeDash":[10,8]},
"encoding":{"x":{"datum":20.87,"type":"quantitative","scale":{"domain":[3,21],"nice":false,"zero":false},"axis":null},"x2":{"datum":22.94},"y":{"datum":549.6,"type":"quantitative","scale":{"domain":[0,870],"nice":false,"zero":false},"axis":null}}}
]
},
{
"width":694,"height":510,
"resolve":{"axis":{"x":"independent","y":"independent"}},
"layer":[
{"data":{"name":"b"},"mark":{"type":"line","color":"#0000ff","strokeWidth":2.5,"strokeJoin":"round","interpolate":"monotone"},
"encoding":{
"x":{"field":"x","type":"quantitative","scale":{"domain":[3,21],"nice":false,"zero":false},"axis":{"orient":"bottom","values":[4,6,8,10,12,14,16,18,20],"tickSize":-10,"labelPadding":23,"labelFlush":false,"labelOverlap":false,"title":"2 Theta (degrees)","titlePadding":16}},
"y":{"field":"y","type":"quantitative","scale":{"domain":[200,1400],"nice":false,"zero":false},"axis":{"orient":"left","values":[200,400,600,800,1000,1200,1400],"format":"d","labelExpr":"datum.value <= 1000 ? datum.label : ''","tickSize":-10,"labelPadding":23,"labelFlush":false,"labelOverlap":false,"title":"Intensity (a.u.)","titlePadding":17}},
"detail":{"field":"c"}}},
{"data":{"name":"lb"},"mark":{"type":"text","align":"right","baseline":"middle","fontSize":17,"font":"Liberation Sans","color":"#000"},
"encoding":{
"x":{"datum":20.67,"type":"quantitative","scale":{"domain":[3,21],"nice":false,"zero":false},"axis":{"orient":"top","values":[4,6,8,10,12,14,16,18,20],"labels":false,"title":null,"tickSize":-10}},
"y":{"field":"y","type":"quantitative","scale":{"domain":[200,1400],"nice":false,"zero":false},"axis":{"orient":"right","values":[200,400,600,800,1000,1200,1400],"labels":false,"title":null,"tickSize":-10}},
"text":{"field":"t"}}},
{"data":{"values":[{}]},"mark":{"type":"rect","color":"#000"},
"encoding":{"x":{"datum":0.523,"type":"quantitative","scale":{"domain":[3,21],"nice":false,"zero":false},"axis":{"orient":"bottom","values":[3,5,7,9,11,13,15,17,19,21],"labels":false,"title":null,"domain":false,"tickSize":-6}},"x2":{"datum":5.524},"y":{"datum":1418.8,"type":"quantitative","scale":{"domain":[200,1400],"nice":false,"zero":false},"axis":{"orient":"left","values":[300,500,700,900,1100,1300],"labels":false,"title":null,"domain":false,"tickSize":-6}},"y2":{"datum":1092.9}}},
{"data":{"values":[{}]},"mark":{"type":"rect","fill":"#fff","stroke":"#333","strokeWidth":1},
"encoding":{"x":{"datum":0.31,"type":"quantitative","scale":{"domain":[3,21],"nice":false,"zero":false},"axis":{"orient":"top","values":[3,5,7,9,11,13,15,17,19,21],"labels":false,"title":null,"domain":false,"tickSize":-6}},"x2":{"datum":5.308},"y":{"datum":1438.1,"type":"quantitative","scale":{"domain":[200,1400],"nice":false,"zero":false},"axis":{"orient":"right","values":[300,500,700,900,1100,1300],"labels":false,"title":null,"domain":false,"tickSize":-6}},"y2":{"datum":1112.5}}},
{"data":{"values":[{}]},"mark":{"type":"text","align":"left","baseline":"middle","fontSize":20,"fontWeight":"bold","font":"Liberation Sans","color":"#000","text":"La₃Ni₂O₇"},
"encoding":{"x":{"datum":0.536,"type":"quantitative","scale":{"domain":[3,21],"nice":false,"zero":false},"axis":null},"y":{"datum":1379.3,"type":"quantitative","scale":{"domain":[200,1400],"nice":false,"zero":false},"axis":null}}},
{"data":{"name":"bb"},"mark":{"type":"text","align":"left","baseline":"middle","fontSize":18.5,"font":"Liberation Sans","color":"#000"},
"encoding":{"x":{"datum":0.536,"type":"quantitative","scale":{"domain":[3,21],"nice":false,"zero":false},"axis":null},"y":{"field":"y","type":"quantitative","scale":{"domain":[200,1400],"nice":false,"zero":false},"axis":null},"text":{"field":"t"}}},
{"data":{"values":[{}]},"mark":{"type":"text","align":"left","baseline":"middle","fontSize":32,"font":"Liberation Serif","color":"#000","text":"(b)"},
"encoding":{"x":{"datum":-1.383,"type":"quantitative","scale":{"domain":[3,21],"nice":false,"zero":false},"axis":null},"y":{"datum":1383.1,"type":"quantitative","scale":{"domain":[200,1400],"nice":false,"zero":false},"axis":null}}},
{"data":{"name":"pb"},"mark":{"type":"text","align":"left","baseline":"middle","fontSize":22,"fontStyle":"italic","font":"Liberation Sans","color":"#000"},
"encoding":{"x":{"datum":21.3,"type":"quantitative","scale":{"domain":[3,21],"nice":false,"zero":false},"axis":null},"y":{"field":"y","type":"quantitative","scale":{"domain":[200,1400],"nice":false,"zero":false},"axis":null},"text":{"field":"t"}}},
{"data":{"values":[{}]},"mark":{"type":"rule","color":"#ff00ff","strokeWidth":2.5,"strokeDash":[10,8]},
"encoding":{"x":{"datum":20.87,"type":"quantitative","scale":{"domain":[3,21],"nice":false,"zero":false},"axis":null},"x2":{"datum":23.57},"y":{"datum":936,"type":"quantitative","scale":{"domain":[200,1400],"nice":false,"zero":false},"axis":null}}}
]
}
]
}
